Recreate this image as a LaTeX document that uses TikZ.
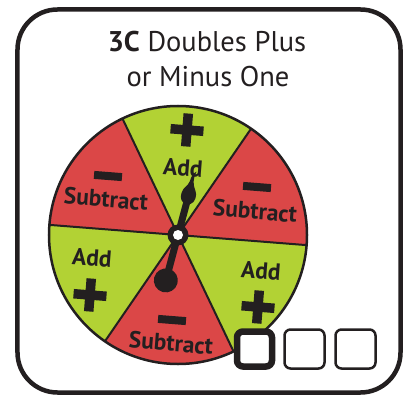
\documentclass[tikz,border=0pt]{standalone}
\usepackage{fontspec}
\setmainfont{PT Sans}
\definecolor{spinred}{RGB}{219,71,71}
\definecolor{spingreen}{RGB}{178,210,52}
\definecolor{inkblack}{RGB}{35,31,32}
\usetikzlibrary{positioning}
\tikzset{
  sectorlabel/.style={font=\bfseries\fontsize{23.5}{25}\selectfont, text=inkblack, inner sep=0pt, rotate=-4.5},
  signbar/.style={draw=inkblack, line width=9.5pt},
  tickbox/.style={draw=inkblack, fill=white, rounded corners=6pt, inner sep=0pt},
  plusmark/.pic={\draw[signbar] (-16.5,0) -- (16.5,0) (0,-16.5) -- (0,16.5);},
  minusmark/.pic={\draw[signbar, line width=8pt] (-14,0) -- (14,0);}
}

\begin{document}
\begin{tikzpicture}[x=1pt, y=1pt]
\useasboundingbox (-178,-161) rectangle (228,235);

% Card frame
\draw[inkblack, line width=4.5pt, rounded corners=40pt]
  (-160.5,225.5) rectangle (222.5,-157.5);

% Title
\node[font=\fontsize{28.5}{32}\selectfont, text=inkblack, anchor=base] (title1) at (29,183) {\textbf{3C} Doubles Plus};
\node[font=\fontsize{28.5}{32}\selectfont, text=inkblack, anchor=base] (title2) at (30,148) {or Minus One};

% Wheel
\coordinate (hub) at (0,0);
\foreach \a/\c in {-4.5/spinred, 55.5/spingreen, 115.5/spinred, 175.5/spingreen, 235.5/spinred, 295.5/spingreen}
  \fill[\c] (hub) -- (\a:129) arc[start angle=\a, delta angle=60, radius=129] -- cycle;
\foreach \a in {-4.5, 55.5, 115.5, 175.5, 235.5, 295.5}
  \draw[inkblack, line width=2pt] (hub) -- (\a:129);
\draw[inkblack, line width=2.5pt] (hub) circle (129);

% Labels
\pic[rotate=-4.5] at (9,105) {plusmark};
\node[sectorlabel] (addtop) at (5,67) {Add};
\pic[rotate=-4.5] at (79,48) {minusmark};
\node[sectorlabel] (subright) at (77,24) {Subtract};
\node[sectorlabel] (addright) at (83,-36) {Add};
\pic[rotate=-4.5] at (80,-72) {plusmark};
\pic[rotate=-4.5] at (-6,-85) {minusmark};
\node[sectorlabel] (subbottom) at (-7,-108) {Subtract};
\node[sectorlabel] (addleft) at (-86,-23) {Add};
\pic[rotate=-4.5] at (-88,-60) {plusmark};
\pic[rotate=-4.5] at (-70,59) {minusmark};
\node[sectorlabel] (subleft) at (-72,36) {Subtract};

% Spinner
\begin{scope}[rotate=75]
\draw[inkblack, line width=7pt] (-47,0) -- (38,0);
\fill[inkblack] (-47,0) circle (12);
\fill[inkblack] (32,0) .. controls (32,-6) and (38,-8.5) .. (44,-7)
  .. controls (49,-5) and (50,-2.5) .. (56,-1.2)
  .. controls (60,-0.5) and (63,-0.8) .. (66,-1.5)
  .. controls (64,1) and (60,2.5) .. (55,2.5)
  .. controls (50,3) and (48,7) .. (42,7.5)
  .. controls (36,8) and (32,5) .. (32,0) -- cycle;
\end{scope}
\fill[inkblack] (hub) circle (10.5);
\fill[white] (hub) circle (5);

% Tick boxes
\node[tickbox, line width=6.5pt, minimum width=35pt, minimum height=35pt] (box1) at (76.5,-114) {};
\node[tickbox, line width=2.5pt, minimum width=40pt, minimum height=39pt] (box2) at (126.5,-114) {};
\node[tickbox, line width=2.5pt, minimum width=40pt, minimum height=39pt] (box3) at (177.5,-114) {};

\end{tikzpicture}
\end{document}
